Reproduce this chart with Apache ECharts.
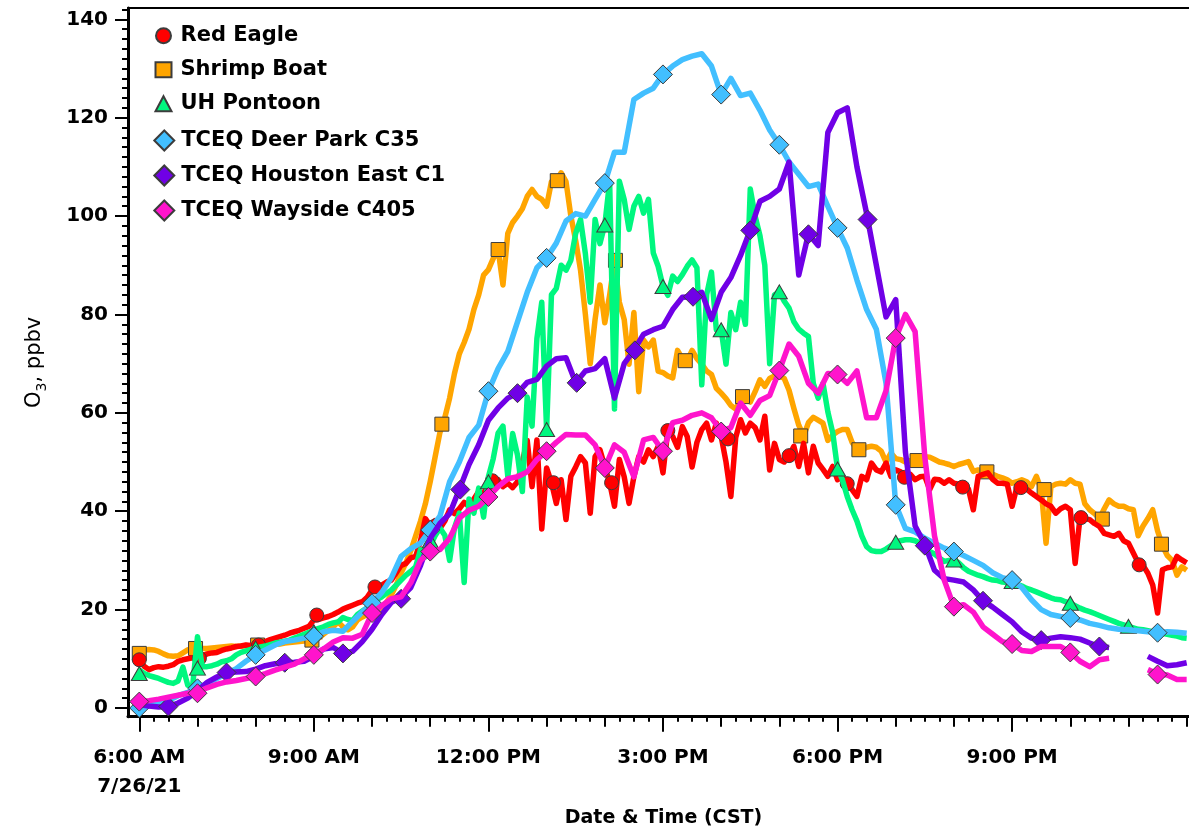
<!DOCTYPE html>
<html>
<head>
<meta charset="utf-8">
<title>O3 at Houston-area sites, 26 July 2021</title>
<script src="https://cdn.jsdelivr.net/npm/echarts@6.0.0/dist/echarts.min.js"></script>
<style>
  html, body { margin: 0; padding: 0; background: #ffffff; }
  #chart { width: 1189px; height: 833px; }
</style>
</head>
<body>
<div id="chart"></div>
<script>
// ---------------------------------------------------------------
// Ozone (ppbv) on 7/26/21, CST. Line values start at 6:00 AM.
// 5-minute series: one row per hour (12 values), final value = midnight.
// ---------------------------------------------------------------
const START_HOUR = 6;

const RED_EAGLE = [
  10, 8.5, 7.8, 8.2, 8.4, 8.3, 8.5, 8.8, 9.5, 9.8, 10, 10.2,
  10.2, 10.6, 11, 11.2, 11.3, 11.7, 12, 12.2, 12.5, 12.6, 12.8, 12.7,
  12.8, 13.2, 13.5, 13.9, 14.2, 14.5, 14.8, 15.2, 15.5, 15.8, 16.2, 16.6,
  17.9, 18, 18.3, 18.6, 19, 19.5, 20.1, 20.5, 20.9, 21.3, 21.6, 22.5,
  24, 24.3, 25, 25.6, 26, 27.5, 29, 29.4, 30.5, 30.8, 34, 38.5,
  37, 38.1, 36.5, 38, 40.3, 39.5, 40.5, 41.8, 41, 42.5, 44, 43.3,
  46.2, 44.5, 46.4, 45, 45.7, 44.8, 46, 50, 54.4, 45, 54.5, 36.4,
  48.8, 45.8, 41.6, 46.4, 38.3, 47.1, 49, 51.1, 49.8, 39.6, 51.1, 52.5,
  49.1, 45.8, 41, 50.5, 47, 41.6, 47, 51.1, 50, 52.5, 51.1, 53.2,
  47.8, 56.4, 55.2, 53, 57.2, 55.2, 49, 54, 56.6, 57.9, 54.5, 57.9,
  55.2, 50, 43, 55, 58.6, 55.9, 57.9, 57, 54.5, 59.3, 48.4, 53.8,
  50.5, 50, 51.3, 53.2, 49.1, 53.8, 47.8, 53.2, 49.8, 48.5, 47.1, 49.1,
  46.4, 47, 45.6, 44.4, 43, 47.1, 46.4, 49.8, 48.4, 48, 49.8, 47.1,
  48.4, 48, 46.9, 47.5, 46.4, 47, 47.1, 44.4, 46.5, 46.4, 45.7, 46.4,
  45.7, 45.5, 44.9, 44.5, 40.3, 47.1, 47.5, 47.8, 46.5, 45.7, 45.7, 45.5,
  41, 45, 44.8, 44.5, 43.7, 43, 42.3, 41.5, 41, 39.6, 40.5, 41,
  40.3, 29.4, 38.7, 38.5, 38.3, 37.5, 36.9, 35.5, 35.2, 34.9, 35.5, 34,
  33.5, 31.5, 29.5, 29, 27.4, 25, 19.3, 28.1, 28.5, 28.7, 30.8, 30.1,
  29.5
];

const SHRIMP_BOAT = [
  11.5, 11.8, 11.9, 11.8, 11.5, 11, 10.6, 10.5, 10.6, 11.2, 11.8, 12.1,
  12.1, 12.1, 12.1, 12.2, 12.3, 12.4, 12.5, 12.6, 12.5, 12.6, 12.7, 12.6,
  12.6, 12.7, 12.8, 12.8, 12.9, 13, 13.2, 13.3, 13.4, 13.5, 13.6, 13.7,
  13.8, 14.2, 15, 15.8, 16.5, 17.5, 16.5, 15.9, 16.5, 17.9, 18.5, 19,
  19.5, 19.8, 20.5, 21.5, 23, 25, 27.5, 29.5, 32, 35, 38, 41.5,
  46, 51, 56, 59, 63, 68, 72, 74.3, 77, 81, 84, 88,
  89.1, 91.4, 93.2, 86, 96.5, 98.7, 100, 101.5, 104, 105.4, 104, 103.4,
  102, 107, 107.2, 108.8, 107, 100, 95, 89, 80, 70, 79, 86,
  78.3, 83.9, 91, 82.5, 79, 69.9, 80.4, 64.3, 74.8, 73.4, 74.8, 68.5,
  68.2, 67.5, 67.1, 72.7, 71, 70.6, 72.7, 71, 69.9, 68.5, 67.8, 65,
  64, 62.9, 61.5, 60.8, 62.5, 63.3, 62.2, 64.3, 66.7, 65.4, 67, 67.5,
  67.5, 67, 64.6, 60.9, 57.5, 55.3, 58, 59.1, 58.5, 57.9, 54.4, 55.5,
  56.2, 56.6, 56.6, 54, 52.6, 52.5, 53, 53.2, 53, 52.2, 50, 51.8,
  50.7, 50.5, 50, 50.3, 50.3, 50.7, 51.1, 51, 50.5, 50, 49.8, 49.5,
  49.1, 49.5, 49.8, 50.1, 48.1, 48.4, 48, 47.9, 47.5, 47.1, 46.8, 46.4,
  45.7, 46, 46.4, 46, 45, 47.1, 44.4, 33.5, 45, 45.5, 45.7, 45.5,
  46.4, 45.7, 45.5, 41.5, 40.3, 39.5, 38.5, 40.5, 42.3, 41.5, 41, 41,
  40.5, 40.3, 35, 37, 38.5, 40.3, 36, 33, 31, 30, 27, 28.7,
  28
];

const UH_PONTOON = [
  7.7, 7, 6.6, 6.3, 6, 5.6, 5.2, 5, 5.5, 8.3, 4.6, 4.4,
  14.5, 8.4, 8.4, 8.6, 8.9, 9.4, 9.6, 10, 10.8, 11.3, 11.6, 11.9,
  12.2, 12.4, 12.6, 12.9, 13.2, 13.4, 13.6, 13.8, 14.2, 14.6, 15, 15.4,
  15.8, 16.2, 16.5, 17, 17.3, 17.5, 18.4, 18, 17.8, 19, 19.7, 20.4,
  21.2, 22, 22.6, 23.3, 24, 25, 26, 27, 27.8, 28.7, 32.2, 30.7,
  33, 35, 36.6, 35.1, 30, 36.6, 39.6, 25.5, 42.5, 39.6, 44.7, 38.8,
  47, 50.7, 55.9, 57.3, 47, 55.8, 51.4, 44, 63.2, 57.3, 75.1, 82.5,
  56.6, 84, 85.3, 90, 89, 91, 96.5, 99.3, 92.3, 82.5, 99.3, 94.4,
  98.2, 107, 60.8, 107.1, 103.4, 97.3, 102, 104, 100.6, 103.4, 92.5, 89.8,
  85.7, 83.9, 87.8, 86.7, 88.1, 89.8, 91.1, 89.5, 65.7, 84, 88.6, 76.9,
  76.9, 69.9, 80.4, 76.9, 82.5, 78, 105.5, 100, 96, 90, 70, 84,
  84.6, 82.7, 81.3, 78.5, 77, 76.2, 75.5, 66, 63, 66, 60.2, 56,
  48.6, 46.4, 43, 40.3, 38, 35, 32.8, 32, 31.8, 31.8, 32.3, 33,
  33.7, 34, 34.2, 34.2, 34, 33.5, 32.5, 31.8, 31.3, 30.5, 29.8, 30,
  30.1, 29.5, 28.5, 27.8, 27.4, 27, 26.7, 26.3, 26, 25.9, 25.6, 25.5,
  25.7, 25.2, 24.8, 24.3, 24, 23.6, 23.2, 22.8, 22.4, 22.1, 22, 21.6,
  21.3, 20.8, 20.3, 19.9, 19.6, 19.2, 18.8, 18.4, 18, 17.6, 17.2, 16.9,
  16.6, 16.3, 16, 15.9, 15.7, 15.5, 15.4, 15.2, 15, 14.8, 14.6, 14.3,
  14.2
];

// 10-minute series: one row per hour (6 values), final value = midnight; null = no data.
const DEER_PARK_C35 = [
  0, 0.5, 1, 1.5, 2.5, 3.2,
  4, 5, 6, 7, 8, 9.5,
  10.8, 11.8, 12.8, 13.5, 13.8, 14.2,
  14.6, 15.5, 15.8, 15.6, 17.6, 19.5,
  21.3, 23.5, 26.5, 30.8, 32.4, 33.5,
  36.2, 39, 46, 50, 55, 57.5,
  64.4, 69, 72.5, 78.5, 84.5, 89.5,
  91.5, 94.5, 99, 100.5, 100, 103.4,
  106.7, 113, 113, 123.7, 125, 126,
  128.8, 130.5, 131.8, 132.5, 133, 130.5,
  124.7, 128, 124.5, 125, 121.5, 117.5,
  114.5, 111, 108.5, 106, 106.5, 102,
  97.6, 93.5, 87, 81, 77, 66,
  41.3, 36.5, 35.8, 34.5, 33.5, 32.5,
  31.8, 31, 30, 29, 27.5, 26.5,
  26, 24.5, 22, 20, 19, 18.6,
  18.3, 17.9, 17.2, 16.8, 16.3, 16,
  15.9, 15.7, 15.5, 15.3, 15.5, 15.4,
  15.2
];

const HOUSTON_EAST_C1 = [
  0.7, 0.4, 0.2, 0.3, 1, 2,
  3.5, 5.2, 6.3, 7.2, 7.3, 7.4,
  7.9, 8.6, 9, 9.2, 9.3, 9.5,
  10.5, 12, 12.3, 11.1, 11.5, 13.5,
  16, 19, 21.5, 22.5, 24.5, 29,
  34.5, 37.5, 39.5, 44.4, 49.5, 53.5,
  58.5, 61, 63, 64, 66.2, 66.8,
  69.5, 71, 71.2, 66.1, 68.5, 69,
  71, 63, 70, 72.7, 76, 76.9,
  77.6, 81, 83.5, 83.6, 84.5, 79,
  84.5, 87.5, 92, 97.2, 103, 104,
  105.5, 111, 88, 96.4, 94, 117,
  121, 122, 110, 100.5, 90, 79.5,
  83, 52, 37, 33.3, 28, 26.3,
  26, 25.6, 24, 21.8, 20.5, 19,
  17.5, 15.5, 14.2, 13.8, 14.2, 14.5,
  14.3, 14, 13.2, 12.5, 12.3, null,
  null, null, 10.5, 9.5, 8.6, 8.8,
  9.2
];

const WAYSIDE_C405 = [
  1.3, 1.5, 1.8, 2.2, 2.6, 3,
  3.2, 4.1, 4.8, 5.3, 5.6, 6,
  6.4, 7, 7.7, 8.3, 8.9, 10,
  11, 12, 13.4, 14.3, 14.2, 15,
  19.3, 20.8, 22.2, 22.6, 25.5, 30,
  31.8, 32.2, 34.5, 38.6, 40.2, 41,
  42.9, 45, 46.6, 47, 48, 50.5,
  52.2, 54, 55.6, 55.5, 55.5, 53.5,
  48.8, 53.5, 52, 47, 54.5, 55,
  52.2, 58, 58.5, 59.5, 60, 59,
  56.2, 57, 62, 59.5, 62.5, 63.5,
  68.6, 74, 71.5, 66, 64, 68,
  67.8, 66, 68.5, 59, 59, 64.5,
  75.2, 80, 76.5, 51, 35, 26,
  20.6, 21, 19.5, 16.5, 15, 13.5,
  13, 11.7, 11.5, 12.5, 12.5, 12.5,
  11.3, 9.5, 8.4, 9.8, 10.1, null,
  null, null, 7.8, 6.9, 6.7, 5.8,
  5.8
];

// Marker points drawn on top of each trace: [clock time, ppbv]
const RED_EAGLE_MARKS = [
  ['6:00', 9.8], ['7:02', 10.1], ['8:03', 12.8], ['9:03', 18.9], ['10:03', 24.6],
  ['11:05', 37], ['12:04', 46.2], ['13:07', 45.8], ['14:07', 45.8], ['15:05', 56.4],
  ['16:07', 54.7], ['17:10', 51.3], ['18:10', 45.6], ['19:09', 46.9], ['20:09', 44.9],
  ['21:09', 44.8], ['22:11', 38.7], ['23:11', 29.1]
];
const SHRIMP_BOAT_MARKS = [
  ['6:00', 11.1], ['6:58', 12.1], ['8:02', 12.8], ['8:58', 13.8], ['11:12', 57.7],
  ['12:10', 93.2], ['13:11', 107.2], ['14:11', 91], ['15:23', 70.6], ['16:22', 63.3],
  ['17:22', 55.3], ['18:22', 52.5], ['19:22', 50.3], ['20:34', 48], ['21:33', 44.4],
  ['22:33', 38.4], ['23:34', 33.3]
];
const UH_PONTOON_MARKS = [
  ['6:00', 7], ['7:00', 8.1], ['8:00', 12.2], ['9:00', 15.5], ['10:00', 21],
  ['11:00', 34], ['12:00', 46], ['13:00', 56.6], ['14:00', 98.2], ['15:00', 85.7],
  ['16:00', 76.9], ['17:00', 84.6], ['18:00', 48.6], ['19:00', 33.7], ['20:00', 30.1],
  ['21:00', 25.7], ['22:00', 21.3], ['23:00', 16.6]
];
const DEER_PARK_C35_MARKS = [
  ['6:00', 0], ['7:00', 4], ['8:00', 10.8], ['9:00', 14.6], ['10:00', 21.3],
  ['11:00', 36.2], ['12:00', 64.4], ['13:00', 91.5], ['14:00', 106.7], ['15:00', 128.8],
  ['16:00', 124.7], ['17:00', 114.5], ['18:00', 97.6], ['19:00', 41.3], ['20:00', 31.8],
  ['21:00', 26], ['22:00', 18.3], ['23:30', 15.3]
];
const HOUSTON_EAST_C1_MARKS = [
  ['6:30', 0.3], ['7:30', 7.2], ['8:30', 9.2], ['9:30', 11.1], ['10:30', 22.2],
  ['11:31', 44.4], ['12:30', 64], ['13:31', 66.1], ['14:31', 72.7], ['15:31', 83.6],
  ['16:30', 97.1], ['17:30', 96.3], ['18:31', 99.3], ['19:30', 33], ['20:30', 21.8],
  ['21:30', 13.8], ['22:30', 12.5]
];
const WAYSIDE_C405_MARKS = [
  ['6:00', 1.3], ['7:00', 3], ['8:00', 6.4], ['9:00', 10.8], ['10:00', 19.3],
  ['11:00', 31.8], ['12:00', 42.9], ['13:00', 52.2], ['14:00', 48.8], ['15:00', 52.2],
  ['16:00', 56.2], ['17:00', 68.6], ['18:00', 67.8], ['19:00', 75.2], ['20:00', 20.6],
  ['21:00', 13], ['22:00', 11.3], ['23:30', 6.8]
];

// Axis ticks and labels
const X_LABEL_HOURS = [6, 9, 12, 15, 18, 21];
const X_LABELS = ['6:00 AM\n7/26/21', '9:00 AM', '12:00 PM', '3:00 PM', '6:00 PM', '9:00 PM'];
const Y_LABEL_VALUES = [0, 20, 40, 60, 80, 100, 120, 140];

// ---------------------------------------------------------------
// Helpers
// ---------------------------------------------------------------
function toPoints(values, stepMinutes) {
  return values.map((v, i) => [START_HOUR + (i * stepMinutes) / 60, v === null ? '-' : v]);
}
function clock(s) {
  const p = s.split(':');
  return Number(p[0]) + Number(p[1]) / 60;
}
function toMarks(list) {
  return list.map(m => [clock(m[0]), m[1]]);
}
function range(from, to, step) {
  const out = [];
  for (let k = 0; from + k * step <= to + 1e-9; k++) out.push(+(from + k * step).toFixed(4));
  return out;
}

const FONT = 'DejaVu Sans';
const X_MIN = 5.806, X_MAX = 24.04;
const Y_MIN = -1.77, Y_MAX = 142.3;

// Drawing order: first = bottom layer
const TRACES = [
  { name: 'Shrimp Boat', values: SHRIMP_BOAT, step: 5, marks: SHRIMP_BOAT_MARKS },
  { name: 'Red Eagle', values: RED_EAGLE, step: 5, marks: RED_EAGLE_MARKS },
  { name: 'UH Pontoon', values: UH_PONTOON, step: 5, marks: UH_PONTOON_MARKS },
  { name: 'TCEQ Deer Park C35', values: DEER_PARK_C35, step: 10, marks: DEER_PARK_C35_MARKS },
  { name: 'TCEQ Houston East C1', values: HOUSTON_EAST_C1, step: 10, marks: HOUSTON_EAST_C1_MARKS },
  { name: 'TCEQ Wayside C405', values: WAYSIDE_C405, step: 10, marks: WAYSIDE_C405_MARKS }
];

const LOOK = {
  'Red Eagle':            { color: '#ff0000', symbol: 'circle',   size: 14 },
  'Shrimp Boat':          { color: '#ffa500', symbol: 'rect',     size: 14 },
  'UH Pontoon':           { color: '#00f77f', symbol: 'triangle', size: [16, 14] },
  'TCEQ Deer Park C35':   { color: '#42bfff', symbol: 'diamond',  size: 19 },
  'TCEQ Houston East C1': { color: '#7000e6', symbol: 'diamond',  size: 19 },
  'TCEQ Wayside C405':    { color: '#ff14cc', symbol: 'diamond',  size: 19 }
};

// Marker series come first in the list so the legend takes its icons from them;
// z keeps each trace's markers just above its own line.
const markerSeries = TRACES.map((t, k) => ({
  type: 'scatter',
  name: t.name,
  data: toMarks(t.marks),
  symbol: LOOK[t.name].symbol,
  symbolSize: LOOK[t.name].size,
  itemStyle: { color: LOOK[t.name].color, borderColor: '#3c3c3c', borderWidth: 1, opacity: 1 },
  z: 3 + 2 * k,
  silent: true,
  emphasis: { disabled: true }
}));
const lineSeries = TRACES.map((t, k) => ({
  type: 'line',
  name: t.name,
  data: toPoints(t.values, t.step),
  showSymbol: false,
  symbol: 'none',
  connectNulls: false,
  lineStyle: { color: LOOK[t.name].color, width: 5.5, join: 'round' },
  itemStyle: { color: LOOK[t.name].color },
  z: 2 + 2 * k,
  silent: true,
  emphasis: { disabled: true }
}));

const tickLine = { color: '#000', width: 2 };
const hiddenLabel = { show: false };

const option = {
  animation: false,
  backgroundColor: '#ffffff',
  grid: { left: 128, right: 0, top: 8, bottom: 116.3, containLabel: false },
  legend: [
    {
      orient: 'vertical', left: 154.5, top: 25.2, padding: 0,
      itemWidth: 16, itemHeight: 15, itemGap: 13, selectedMode: false,
      textStyle: { fontFamily: FONT, fontSize: 21, fontWeight: 'bold', color: '#000', padding: [0, 0, 0, 4] },
      data: [
        { name: 'Red Eagle', icon: 'circle' },
        { name: 'Shrimp Boat', icon: 'rect' },
        { name: 'UH Pontoon', icon: 'triangle' }
      ]
    },
    {
      orient: 'vertical', left: 153.3, top: 129.5, padding: 0,
      itemWidth: 20, itemHeight: 20, itemGap: 13, selectedMode: false,
      textStyle: { fontFamily: FONT, fontSize: 21, fontWeight: 'bold', color: '#000', padding: [0, 0, 0, 2] },
      data: [
        { name: 'TCEQ Deer Park C35', icon: 'diamond' },
        { name: 'TCEQ Houston East C1', icon: 'diamond' },
        { name: 'TCEQ Wayside C405', icon: 'diamond' }
      ]
    }
  ],
  xAxis: [
    {
      type: 'value', min: X_MIN, max: X_MAX, position: 'bottom',
      axisLine: { show: true, onZero: false, lineStyle: { color: '#000', width: 3 } },
      axisTick: { show: true, customValues: X_LABEL_HOURS, length: 15, lineStyle: tickLine },
      axisLabel: {
        customValues: X_LABEL_HOURS,
        formatter: v => {
          const i = X_LABEL_HOURS.findIndex(h => Math.abs(h - v) < 1e-6);
          return i < 0 ? '' : X_LABELS[i];
        },
        margin: 27, color: '#000', fontFamily: FONT, fontSize: 20, fontWeight: 'bold', lineHeight: 29
      },
      splitLine: { show: false },
      name: 'Date & Time (CST)', nameLocation: 'middle', nameGap: 92,
      nameTextStyle: { fontFamily: FONT, fontSize: 19, fontWeight: 'bold', color: '#000', padding: [0, 0, 0, 10] }
    },
    {
      type: 'value', min: X_MIN, max: X_MAX, position: 'bottom',
      axisLine: { show: false, onZero: false },
      axisTick: { show: true, customValues: range(6, 24, 1), length: 10, lineStyle: tickLine },
      axisLabel: hiddenLabel, splitLine: { show: false }
    },
    {
      type: 'value', min: X_MIN, max: X_MAX, position: 'bottom',
      axisLine: { show: false, onZero: false },
      axisTick: { show: true, customValues: range(6, 24, 0.25), length: 5, lineStyle: tickLine },
      axisLabel: hiddenLabel, splitLine: { show: false }
    },
    {
      type: 'value', min: X_MIN, max: X_MAX, position: 'top',
      axisLine: { show: true, onZero: false, lineStyle: { color: '#000', width: 2 } },
      axisTick: { show: false }, axisLabel: hiddenLabel, splitLine: { show: false }
    }
  ],
  yAxis: [
    {
      type: 'value', min: Y_MIN, max: Y_MAX, position: 'left',
      axisLine: { show: true, onZero: false, lineStyle: { color: '#000', width: 3 } },
      axisTick: { show: true, customValues: Y_LABEL_VALUES, length: 13, lineStyle: tickLine },
      axisLabel: {
        customValues: Y_LABEL_VALUES, margin: 20,
        color: '#000', fontFamily: FONT, fontSize: 20, fontWeight: 'bold'
      },
      splitLine: { show: false },
      name: '{o|O}{s|3}{o|, ppbv}', nameLocation: 'middle', nameRotate: 90, nameGap: 79,
      nameTextStyle: {
        fontFamily: FONT, color: '#000',
        rich: {
          o: { fontFamily: FONT, fontSize: 21, lineHeight: 28, color: '#000' },
          s: { fontFamily: FONT, fontSize: 14, lineHeight: 28, verticalAlign: 'bottom', color: '#000' }
        }
      }
    },
    {
      type: 'value', min: Y_MIN, max: Y_MAX, position: 'left',
      axisLine: { show: false, onZero: false },
      axisTick: { show: true, customValues: range(0, 142, 2), length: 6, lineStyle: tickLine },
      axisLabel: hiddenLabel, splitLine: { show: false }
    }
  ],
  series: markerSeries.concat(lineSeries)
};

const chart = echarts.init(document.getElementById('chart'), null, { renderer: 'canvas' });
chart.setOption(option);
</script>
</body>
</html>
